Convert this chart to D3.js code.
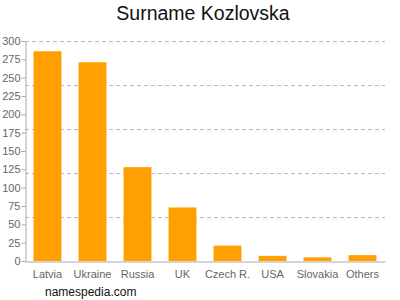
<!DOCTYPE html>
<html>
<head>
<meta charset="utf-8">
<script src="https://cdn.jsdelivr.net/npm/d3@7"></script>
<style>
  body { margin: 0; background: #fff; }
  text { font-family: "Liberation Sans", Arial, sans-serif; }
</style>
</head>
<body>
<div id="container"></div>
<script>
/* DATA */
const countries = ["Latvia", "Ukraine", "Russia", "UK", "Czech R.", "USA", "Slovakia", "Others"];
const counts = [286, 271, 128, 73, 21, 7, 5, 8];
const yTicks = [0, 25, 50, 75, 100, 125, 150, 175, 200, 225, 250, 275, 300];
const gridValues = [60, 120, 180, 240, 300];

/* CONSTANTS */
const width = 400, height = 300,
  margin = { top: 41, bottom: 39, left: 25, right: 15 };

const svg = d3.select("#container")
  .append("svg")
  .attr("width", width)
  .attr("height", height);

// SCALES
const x = d3.scaleBand()
  .domain(countries)
  .range([margin.left, width - margin.right])
  .paddingInner(0.38)
  .paddingOuter(0.19);

const y = d3.scaleLinear()
  .domain([0, 300])
  .range([height - margin.bottom, margin.top]);

// TITLE
svg.append("text")
  .attr("x", 203)
  .attr("y", 20)
  .attr("text-anchor", "middle")
  .attr("font-size", 19.5)
  .attr("fill", "#111")
  .text("Surname Kozlovska");

// GRID LINES
svg.append("g")
  .selectAll("line")
  .data(gridValues)
  .join("line")
  .attr("x1", margin.left)
  .attr("x2", width - margin.right)
  .attr("y1", d => Math.round(y(d)) + 0.5)
  .attr("y2", d => Math.round(y(d)) + 0.5)
  .attr("stroke", "#bbb")
  .attr("stroke-dasharray", "4,3");

// BARS
svg.append("g")
  .selectAll("rect")
  .data(countries)
  .join("rect")
  .attr("x", d => x(d))
  .attr("width", x.bandwidth())
  .attr("y", (d, i) => y(counts[i]))
  .attr("height", (d, i) => y(0) - y(counts[i]))
  .attr("fill", "#ffa000");

// Y AXIS
const yAxis = svg.append("g")
  .attr("transform", `translate(${margin.left + 0.5},0)`)
  .call(d3.axisLeft(y).tickValues(yTicks).tickSize(4).tickSizeOuter(0));
yAxis.select(".domain").attr("stroke", "#aaa");
yAxis.selectAll(".tick line").attr("stroke", "#aaa");
yAxis.selectAll(".tick text")
  .attr("fill", "#666")
  .attr("font-size", 11)
  .attr("x", -5)
  .style("font-family", "'Liberation Sans', Arial, sans-serif");

// X AXIS
const xAxis = svg.append("g")
  .attr("transform", `translate(0,${y(0) + 0.5})`)
  .call(d3.axisBottom(x).tickSize(0).tickSizeOuter(0));
xAxis.select(".domain").attr("stroke", "#aaa");
xAxis.selectAll(".tick text")
  .attr("fill", "#666")
  .attr("font-size", 11)
  .attr("dy", "1.2em")
  .style("font-family", "'Liberation Sans', Arial, sans-serif");

// SOURCE
svg.append("text")
  .attr("x", 45)
  .attr("y", 296)
  .attr("font-size", 12)
  .attr("fill", "#111")
  .text("namespedia.com");
</script>
</body>
</html>
